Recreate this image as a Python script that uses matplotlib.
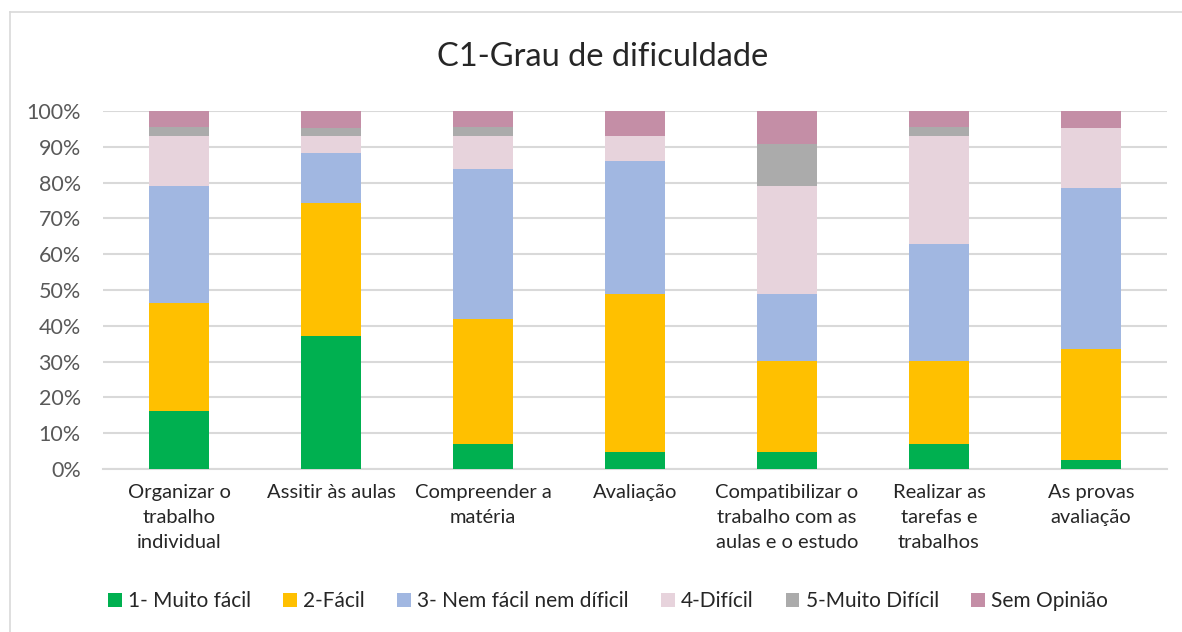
import matplotlib
matplotlib.use("Agg")
import matplotlib.pyplot as plt
from matplotlib.patches import Patch
from matplotlib.lines import Line2D
import numpy as np

plt.rcParams['font.family'] = ['Lato', 'DejaVu Sans']

categories = ["Organizar o\ntrabalho\nindividual", "Assitir às aulas", "Compreender a\nmatéria",
              "Avaliação", "Compatibilizar o\ntrabalho com as\naulas e o estudo",
              "Realizar as\ntarefas e\ntrabalhos", "As provas\navaliação"]
series_names = ["1- Muito fácil", "2-Fácil", "3- Nem fácil nem díficil", "4-Difícil",
                "5-Muito Difícil", "Sem Opinião"]
muito_facil = [16.3, 37.2, 7.0, 4.7, 4.7, 7.0, 2.4]
facil = [30.2, 37.2, 34.9, 44.2, 25.6, 23.3, 31.0]
nem = [32.6, 14.0, 41.9, 37.2, 18.6, 32.6, 45.2]
dificil = [14.0, 4.6, 9.3, 7.0, 30.2, 30.2, 16.7]
muito_dificil = [2.3, 2.3, 2.3, 0.0, 11.6, 2.3, 0.0]
sem_opiniao = [4.6, 4.7, 4.6, 6.9, 9.3, 4.6, 4.7]
colors = ["#00B050", "#FFC000", "#A1B7E1", "#E7D3DC", "#ABABAB", "#C48EA6"]

data = [muito_facil, facil, nem, dificil, muito_dificil, sem_opiniao]

fig = plt.figure(figsize=(11.82, 6.32), dpi=100)
ax = fig.add_axes([103/1182, 1-469/632, (1167-103)/1182, (469-111)/632])

x = np.arange(len(categories))
bottom = np.zeros(len(categories))
for vals, name, c in zip(data, series_names, colors):
    v = np.array(vals)
    ax.bar(x, v, 0.4, bottom=bottom, color=c, label=name, zorder=3)
    bottom += v

ax.set_xlim(-0.5, len(categories)-0.5)
ax.set_ylim(0, 100)
ax.set_yticks(np.arange(0, 101, 10))
ax.set_yticklabels([f"{t}%" for t in range(0, 101, 10)], fontsize=15.5, color="#595959")
ax.yaxis.grid(True, color="#D9D9D9", linewidth=1.5, zorder=0)
ax.set_axisbelow(True)
ax.set_xticks(x)
ax.set_xticklabels(categories, fontsize=14.5, color="#262626", linespacing=1.55)
ax.tick_params(axis='both', length=0)
ax.tick_params(axis='y', pad=16)
ax.tick_params(axis='x', pad=11)
for s in ['top', 'right', 'left']:
    ax.spines[s].set_visible(False)
ax.spines['bottom'].set_color("#D9D9D9")
ax.spines['bottom'].set_linewidth(1.5)

fig.text(603/1182, 1-57/632, "C1-Grau de dificuldade", fontsize=23.5, color="#262626",
         ha='center', va='center')

handles = [Patch(facecolor=c, edgecolor='none') for c in colors]
fig.legend(handles, series_names, loc='center', bbox_to_anchor=(608/1182, 1-601/632),
           ncol=6, frameon=False, fontsize=15, handlelength=0.65, handleheight=0.65,
           columnspacing=1.55, handletextpad=0.3, labelcolor="#262626")

fig.add_artist(Line2D([10/1182, 10/1182], [0, 1-12/632], color="#D9D9D9", linewidth=1.2,
                      transform=fig.transFigure))
fig.add_artist(Line2D([10/1182, 1], [1-12/632, 1-12/632], color="#D9D9D9", linewidth=1.2,
                      transform=fig.transFigure))

fig.savefig("out.png", dpi=100)
